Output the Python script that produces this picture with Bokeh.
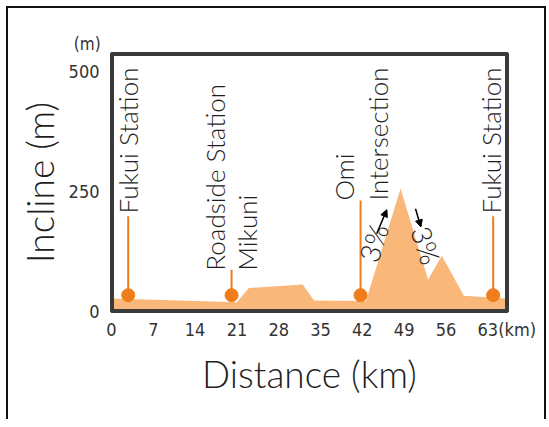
import math
from bokeh.plotting import figure
from bokeh.models import Range1d, FixedTicker, ColumnDataSource, Arrow, NormalHead, LinearAxis
from bokeh.core.properties import value
from bokeh.embed import file_html
from bokeh.resources import INLINE

# ---- data ----
profile_km = [0, 21.0, 23.0, 32.0, 33.9, 42.6, 48.4, 53.0, 55.3, 59.0, 66.3]
profile_m = [27, 19, 49, 56, 23, 22, 256, 66, 116, 33, 27]

stop_km = [2.8, 20.1, 41.7, 63.9]
stop_m = [34, 34, 34, 34]
stop_top_m = [198, 87, 231, 198]

label_text = ["Fukui Station", "Roadside Station", "Mikuni", "Omi", "Intersection", "Fukui Station"]
label_km = [2.7, 17.4, 22.7, 38.9, 44.6, 63.5]
label_m = [204, 85, 85, 231, 231, 204]

grade_text = ["3%", "3%"]
grade_km = [43.8, 52.7]
grade_m = [143, 138]
grade_angle_deg = [72, -72]

arrow_x0 = [44.4, 50.9]
arrow_y0 = [162, 214]
arrow_x1 = [46.1, 51.8]
arrow_y1 = [212, 176]

x_ticks = [0, 7, 14, 21, 28, 35, 42, 49, 56, 63]
y_ticks = [0, 250, 500]
x_unit = "(km)"
y_unit = "(m)"

X_START, X_END = 0, 66.3
Y_START, Y_END = 0, 537

# ---- colours / fonts ----
FILL = "#F9B77A"
ORANGE = "#EF7D1B"
TXT = "#1e1e1e"
FRAME = "#3a3a3a"
TITLE_FONT = "Lato Light"
TICK_FONT = "DejaVu Sans Condensed"
NB = "\u00a0"

p = figure(width=536, height=411, output_backend="svg", toolbar_location=None,
           x_range=Range1d(X_START, X_END), y_range=Range1d(Y_START, Y_END),
           min_border_left=103, min_border_right=37, min_border_top=45, min_border_bottom=108)
p.margin = (8, 0, 0, 8)
p.styles = {"box-shadow": "-2px -2px 0 0 #111, 2px -2px 0 0 #111, -2px 0 0 0 #111, 2px 0 0 0 #111"}

p.grid.visible = False
p.outline_line_color = FRAME
p.outline_line_width = 3
p.background_fill_color = "white"
p.border_fill_color = "white"

bottom_ax = p.below[0]
left_ax = p.left[0]

# elevation profile
prof = ColumnDataSource(dict(x=profile_km, y=profile_m))
p.varea(x="x", y1=0, y2="y", source=prof, fill_color=FILL)

# frame drawn as a glyph along the range bounds
p.quad(left=[X_START], right=[X_END], bottom=[Y_START], top=[Y_END],
       fill_color=None, line_color=FRAME, line_width=5)

# stop markers
stops = ColumnDataSource(dict(x=stop_km, y=stop_m, top=stop_top_m))
p.segment(x0="x", y0="y", x1="x", y1="top", source=stops, line_color=ORANGE, line_width=2)
p.scatter(x="x", y="y", source=stops, size=13, fill_color=ORANGE, line_color=ORANGE)

# stop labels
labs = ColumnDataSource(dict(x=label_km, y=label_m, t=label_text))
p.text(x="x", y="y", text="t", source=labs, angle=math.pi / 2,
       text_align="left", text_baseline="middle",
       text_font=value(TITLE_FONT), text_font_size="26px", text_color=TXT)

# grade labels
grades = ColumnDataSource(dict(x=grade_km, y=grade_m, t=grade_text,
                               a=[math.radians(d) for d in grade_angle_deg]))
p.text(x="x", y="y", text="t", angle="a", source=grades,
       text_align="center", text_baseline="middle",
       text_font=value(TITLE_FONT), text_font_size="28px", text_color=TXT)

arrows = ColumnDataSource(dict(x0=arrow_x0, y0=arrow_y0, x1=arrow_x1, y1=arrow_y1))
p.add_layout(Arrow(x_start="x0", y_start="y0", x_end="x1", y_end="y1", source=arrows,
                   line_color="black", line_width=1.5,
                   end=NormalHead(size=7, fill_color="black", line_color="black")))

# extra axes: top (carries the "(m)" unit) and right (frame line only)
top_ax = LinearAxis(ticker=FixedTicker(ticks=[0]),
                    major_label_overrides={0: y_unit + NB * 10})
right_ax = LinearAxis(ticker=FixedTicker(ticks=[]))
p.add_layout(top_ax, "above")
p.add_layout(right_ax, "right")

for ax in (bottom_ax, left_ax, top_ax, right_ax):
    ax.axis_line_color = FRAME
    ax.axis_line_width = 3
    ax.major_tick_line_color = None
    ax.minor_tick_line_color = None
    ax.major_label_text_font = TICK_FONT
    ax.major_label_text_font_size = "18px"
    ax.major_label_text_color = "#333333"
    ax.axis_label_text_font = TITLE_FONT
    ax.axis_label_text_font_style = "normal"
    ax.axis_label_text_font_size = "37px"
    ax.axis_label_text_color = TXT

top_ax.major_label_text_font_size = "17px"
top_ax.major_label_standoff = -6

bottom_ax.ticker = FixedTicker(ticks=x_ticks + [66.2])
bottom_ax.major_label_overrides = {66.2: NB * 4 + x_unit}
left_ax.ticker = FixedTicker(ticks=y_ticks)
bottom_ax.axis_label = "Distance (km)"
left_ax.axis_label = "Incline (m)"
bottom_ax.major_label_standoff = 1
left_ax.major_label_standoff = 6
bottom_ax.axis_label_standoff = 8
left_ax.axis_label_standoff = 4

open("out.html", "w").write(file_html(p, INLINE))
